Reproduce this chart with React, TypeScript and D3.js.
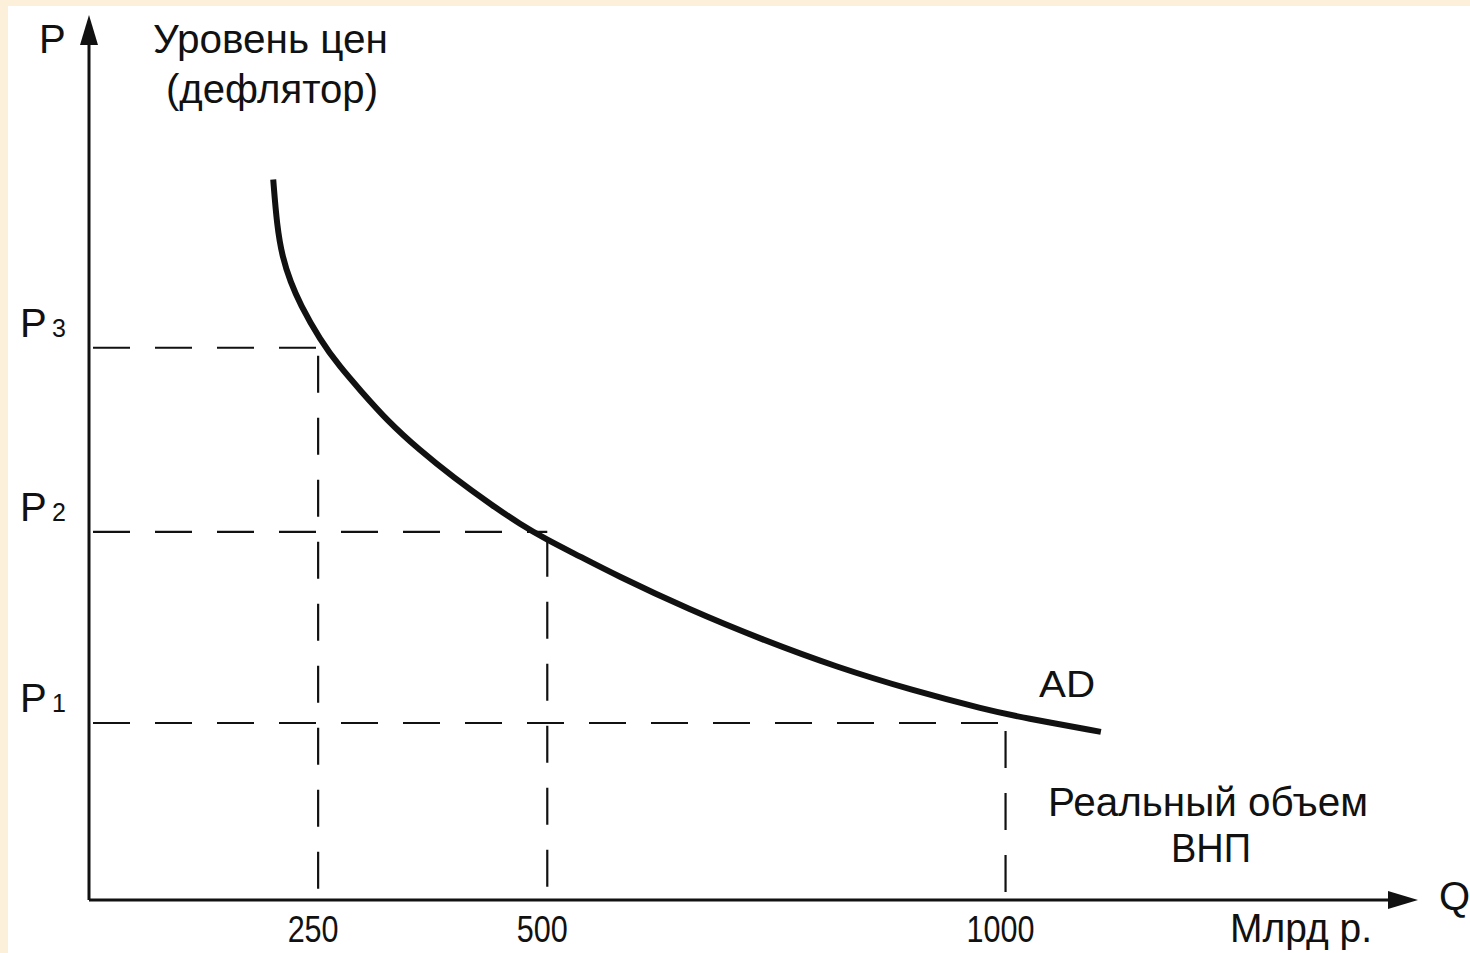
import React from "react";
import * as d3 from "d3";

// ---- data ----
const qTicks = [250, 500, 1000]; // Млрд р.
const priceLabels = ["1", "2", "3"]; // P1, P2, P3 subscripts
const priceLevels = [20.0, 41.6, 62.4]; // P1, P2, P3 (arbitrary index units)
const qAtLevel = [1000, 500, 250]; // output demanded at P1, P2, P3
const adQ = [201, 205, 211, 220, 230, 252, 274, 296, 325, 361, 397, 441, 470, 498, 536, 573, 655, 735, 816, 898, 979, 1019, 1104];
const adP = [81.4, 76.2, 72.6, 69.8, 67.4, 63.3, 60.2, 57.6, 54.2, 50.8, 47.8, 44.5, 42.5, 40.8, 38.8, 36.8, 32.8, 29.4, 26.3, 23.7, 21.5, 20.6, 19.0];

const W = 1470;
const H = 953;
const FONT = "'Liberation Sans', Arial, sans-serif";
const INK = "#111";

export default function App() {
  const x = d3.scaleLinear().domain([0, 1450]).range([89, 1418]);
  const y = d3.scaleLinear().domain([0, 100]).range([900, 15]);

  const pts: [number, number][] = adQ.map((q, i) => [q, adP[i]]);
  const line = d3
    .line<[number, number]>()
    .x((d) => x(d[0]))
    .y((d) => y(d[1]))
    .curve(d3.curveBasis);

  const x0 = x(0);
  const y0 = y(0);
  const xEnd = x(1450);
  const yEnd = y(100);

  return (
    <svg
      width={W}
      height={H}
      viewBox={`0 0 ${W} ${H}`}
      style={{ position: "fixed", left: 0, top: 0, display: "block" }}
    >
      <rect x={0} y={0} width={W} height={H} fill="#fcf0da" />
      <rect x={8} y={6} width={W - 8} height={H - 6} fill="#ffffff" />

      {/* dashed guide lines */}
      {priceLevels.map((p, i) => (
        <g key={i} stroke={INK} strokeWidth={2.2} strokeDasharray="37 25" fill="none">
          <line x1={x0 + 4} y1={y(p)} x2={x(qAtLevel[i])} y2={y(p)} />
          <line x1={x(qAtLevel[i])} y1={y(p) + 8} x2={x(qAtLevel[i])} y2={y0 - 4} />
        </g>
      ))}

      {/* axes */}
      <line x1={x0} y1={y0} x2={xEnd - 20} y2={y0} stroke={INK} strokeWidth={3} />
      <line x1={x0} y1={y0} x2={x0} y2={yEnd + 20} stroke={INK} strokeWidth={3} />
      <polygon
        points={`${x0},${yEnd} ${x0 - 9},${yEnd + 30} ${x0 + 9},${yEnd + 30}`}
        fill={INK}
      />
      <polygon
        points={`${xEnd},${y0} ${xEnd - 30},${y0 - 9} ${xEnd - 30},${y0 + 9}`}
        fill={INK}
      />

      {/* AD curve */}
      <path d={line(pts) || ""} fill="none" stroke={INK} strokeWidth={6} strokeLinecap="butt" />

      <g fontFamily={FONT} fill={INK}>
        {/* axis titles */}
        <text x={39} y={53} fontSize={40}>P</text>
        <text x={153} y={53} fontSize={40} textLength={235} lengthAdjust="spacingAndGlyphs">Уровень цен</text>
        <text x={166} y={103} fontSize={40} textLength={212} lengthAdjust="spacingAndGlyphs">(дефлятор)</text>

        {/* price level labels */}
        {priceLevels.map((p, i) => (
          <g key={i}>
            <text x={20} y={y(p) - 11} fontSize={40}>P</text>
            <text x={52} y={y(p) - 11} fontSize={25}>{priceLabels[i]}</text>
          </g>
        ))}

        <text x={1039} y={697} fontSize={36} textLength={56} lengthAdjust="spacingAndGlyphs">AD</text>

        <text x={1048} y={816} fontSize={41} textLength={320} lengthAdjust="spacingAndGlyphs">Реальный объем</text>
        <text x={1171} y={862} fontSize={41} textLength={80} lengthAdjust="spacingAndGlyphs">ВНП</text>

        {qTicks.map((q) => (
          <text
            key={q}
            x={x(q) - 5}
            y={942}
            fontSize={36}
            textAnchor="middle"
            textLength={q >= 1000 ? 68 : 51}
            lengthAdjust="spacingAndGlyphs"
          >
            {q}
          </text>
        ))}

        <text x={1230} y={942} fontSize={40} textLength={142} lengthAdjust="spacingAndGlyphs">Млрд р.</text>
        <text x={1439} y={910} fontSize={40}>Q</text>
      </g>
    </svg>
  );
}
